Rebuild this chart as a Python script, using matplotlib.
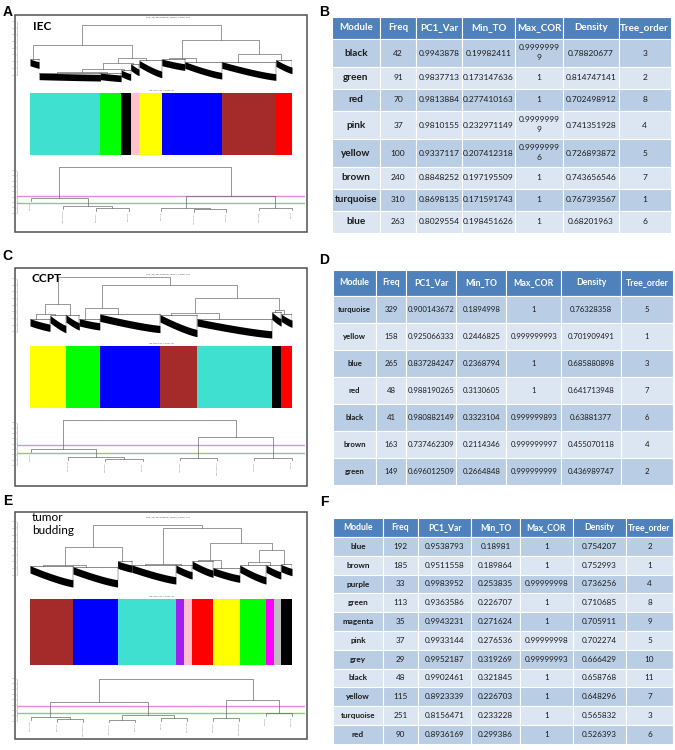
import numpy as np
import matplotlib
matplotlib.use("Agg")
import matplotlib.pyplot as plt
from matplotlib.patches import Rectangle

W, H = 675, 750

# ----------------------------
# Data
# ----------------------------
table_cols = ["Module", "Freq", "PC1_Var", "Min_TO", "Max_COR", "Density", "Tree_order"]

# B: IEC
iec_module = ["black", "green", "red", "pink", "yellow", "brown", "turquoise", "blue"]
iec_freq = [42, 91, 70, 37, 100, 240, 310, 263]
iec_pc1 = ["0.9943878", "0.9837713", "0.9813884", "0.9810155", "0.9337117", "0.8848252", "0.8698135", "0.8029554"]
iec_minto = ["0.19982411", "0.173147636", "0.277410163", "0.232971149", "0.207412318", "0.197195509", "0.171591743", "0.198451626"]
iec_maxcor = ["0.99999999", "1", "1", "0.99999999", "0.99999996", "1", "1", "1"]
iec_density = ["0.78820677", "0.814747141", "0.702498912", "0.741351928", "0.726893872", "0.743656546", "0.767393567", "0.68201963"]
iec_order = [3, 2, 8, 4, 5, 7, 1, 6]

# D: CCPT
ccpt_module = ["turquoise", "yellow", "blue", "red", "black", "brown", "green"]
ccpt_freq = [329, 158, 265, 48, 41, 163, 149]
ccpt_pc1 = ["0.900143672", "0.925066333", "0.837284247", "0.988190265", "0.980882149", "0.737462309", "0.696012509"]
ccpt_minto = ["0.1894998", "0.2446825", "0.2368794", "0.3130605", "0.3323104", "0.2114346", "0.2664848"]
ccpt_maxcor = ["1", "0.999999993", "1", "1", "0.999999893", "0.999999997", "0.999999999"]
ccpt_density = ["0.76328358", "0.701909491", "0.685880898", "0.641713948", "0.63881377", "0.455070118", "0.436989747"]
ccpt_order = [5, 1, 3, 7, 6, 4, 2]

# F: tumor budding
tb_module = ["blue", "brown", "purple", "green", "magenta", "pink", "grey", "black", "yellow", "turquoise", "red"]
tb_freq = [192, 185, 33, 113, 35, 37, 29, 48, 115, 251, 90]
tb_pc1 = ["0.9538793", "0.9511558", "0.9983952", "0.9363586", "0.9943231", "0.9933144", "0.9952187", "0.9902461", "0.8923339", "0.8156471", "0.8936169"]
tb_minto = ["0.18981", "0.189864", "0.253835", "0.226707", "0.271624", "0.276536", "0.319269", "0.321845", "0.226703", "0.233228", "0.299386"]
tb_maxcor = ["1", "1", "0.99999998", "1", "1", "0.99999998", "0.99999993", "1", "1", "1", "1"]
tb_density = ["0.754207", "0.752993", "0.736256", "0.710685", "0.705911", "0.702274", "0.666429", "0.658768", "0.648296", "0.565832", "0.526393"]
tb_order = [2, 1, 4, 8, 9, 5, 10, 11, 7, 3, 6]

# gene dendrograms: black leaf blobs (genes, top height, right-end height) and merges (left, right, height)
iec_blob_size = [40, 270, 91, 42, 37, 100, 101, 163, 238, 71]
iec_blob_top = [0.34, 0.13, 0.13, 0.175, 0.27, 0.32, 0.34, 0.30, 0.30, 0.33]
iec_blob_end = [0.30, 0.11, 0.10, 0.12, 0.19, 0.16, 0.27, 0.14, 0.12, 0.22]
iec_gene_tree = ((0, ((((1, 2, 0.14), 3, 0.19), 4, 0.275), 5, 0.36), 0.55),
                 ((6, 7, 0.36), (8, 9, 0.41), 0.625), 0.85)

ccpt_blob_size = [88, 70, 59, 90, 265, 163, 329, 41, 48]
ccpt_blob_top = [0.30, 0.35, 0.36, 0.30, 0.37, 0.36, 0.30, 0.40, 0.37]
ccpt_blob_end = [0.22, 0.20, 0.24, 0.24, 0.20, 0.14, 0.12, 0.30, 0.28]
ccpt_gene_tree = (((0, 1, 0.375), 2, 0.525),
                  ((3, 4, 0.46), ((5, 6, 0.39), (7, 8, 0.43), 0.61), 0.80), 0.925)

tb_blob_size = [185, 192, 63, 188, 70, 90, 115, 113, 64, 48]
tb_blob_top = [0.24, 0.225, 0.31, 0.25, 0.25, 0.31, 0.21, 0.25, 0.25, 0.26]
tb_blob_end = [0.03, 0.03, 0.25, 0.075, 0.15, 0.175, 0.10, 0.075, 0.15, 0.20]
tb_gene_tree = (((0, 1, 0.245), 2, 0.525),
                ((3, 4, 0.27), ((5, 6, 0.325), ((7, 8, 0.30), 9, 0.475), 0.575), 0.80), 0.85)

# eigengene dendrograms (leaves 0..n-1) and cut lines
iec_me_tree = ((0, (1, (2, 3, 0.094), 0.1375), 0.281), ((4, (5, 6, 0.075), 0.094), (7, 8, 0.106), 0.331), 0.8625)
iec_cuts = [0.325, 0.2]
ccpt_me_tree = ((0, (1, (2, 3, 0.125), 0.156), 0.30), ((4, 5, 0.144), (6, 7, 0.144), 0.531), 0.844)
ccpt_cuts = [0.375, 0.2375]
tb_me_tree = (((0, (1, 2, 0.044), 0.081), ((3, 4, 0.031), (5, 6, 0.0625), 0.119), 0.356),
              ((7, 8, 0.056), (9, 10, 0.15), 0.40), 0.80)
tb_cuts = [0.29, 0.156]

wgcna_colors = {"turquoise": "#40E0D0", "green": "#00FF00", "black": "#000000", "pink": "#FFC0CB",
                "yellow": "#FFFF00", "blue": "#0000FF", "brown": "#A52A2A", "red": "#FF0000",
                "purple": "#A020F0", "magenta": "#FF00FF", "grey": "#BEBEBE"}

# ----------------------------
# Helpers
# ----------------------------
fig = plt.figure(figsize=(W / 100, H / 100), dpi=100)
fig.patch.set_facecolor("white")


def px_axes(x0, y0, x1, y1):
    return fig.add_axes([x0 / W, 1 - y1 / H, (x1 - x0) / W, (y1 - y0) / H])


def tiny_axis(ax, lo, hi):
    ax.set_xticks([])
    for s in ["top", "right", "bottom"]:
        ax.spines[s].set_visible(False)
    ax.spines["left"].set_color("#aaaaaa")
    ax.spines["left"].set_linewidth(0.4)
    ax.spines["left"].set_bounds(lo, hi)
    ticks = np.round(np.linspace(lo, hi, 9), 2)
    ax.set_yticks(ticks)
    ax.set_yticklabels([f"{t:.1f}" for t in ticks], fontsize=1.5, color="#999999")
    ax.tick_params(axis="y", length=1, width=0.3, pad=0.5, color="#aaaaaa")
    ax.patch.set_alpha(0)


def draw_gene_tree(ax, tree, sizes, tops, ends, thick):
    edges = np.concatenate([[0], np.cumsum(sizes)])

    def walk(node):
        if isinstance(node, int):
            return edges[node] + 0.3 * sizes[node], tops[node]
        left, right, h = node
        xl, hl = walk(left)
        xr, hr = walk(right)
        ax.plot([xl, xl, xr, xr], [hl, h, h, hr], color="#707070", lw=0.5)
        return (xl + xr) / 2, h

    walk(tree)
    t = np.linspace(0, 1, 80)
    for i in range(len(sizes)):
        xs = edges[i] + t * sizes[i]
        upper = ends[i] + (tops[i] - ends[i]) * (1 - t) ** 1.25
        ax.fill_between(xs, upper - thick, upper, color="black", lw=0)
        ax.plot([edges[i], edges[i + 1]], [tops[i], tops[i]], color="#333333", lw=0.4)
        ax.plot([edges[i + 1], edges[i + 1]], [tops[i], upper[-1]], color="#333333", lw=0.3)
    return edges[-1]


def draw_me_tree(ax, tree, labels, hang=0.05):
    def walk(node, parent_h):
        if isinstance(node, int):
            bottom = parent_h - hang
            ax.text(node, bottom - 0.02, labels[node], rotation=90, ha="center", va="top",
                    fontsize=1.6, color="#888888")
            return node, bottom
        left, right, h = node
        xl, hl = walk(left, h)
        xr, hr = walk(right, h)
        ax.plot([xl, xl, xr, xr], [hl, h, h, hr], color="#6a6a6a", lw=0.5, zorder=3)
        return (xl + xr) / 2, h

    walk(tree, None)


def draw_table(x0, y0, widths, columns, header_h, row_h, tall_h, fs, mod_fs, head_fs, wrap):
    rows = list(zip(*columns))
    # only Max_COR wraps in a narrow column
    texts = [[s if (j != 4 or len(s) <= wrap) else s[:wrap] + "\n" + s[wrap:]
              for j, s in enumerate(map(str, r))] for r in rows]
    heights = [header_h] + [tall_h if any("\n" in s for s in r) else row_h for r in texts]
    xe = np.concatenate([[0], np.cumsum(widths)])
    ye = np.concatenate([[0], np.cumsum(heights)])
    ax = px_axes(x0, y0, x0 + xe[-1], y0 + ye[-1])
    ax.set_xlim(0, xe[-1])
    ax.set_ylim(ye[-1], 0)
    ax.axis("off")
    for j, name in enumerate(table_cols):
        ax.add_patch(Rectangle((xe[j], 0), widths[j], header_h, fc="#4F81BD", ec="white", lw=0.8))
        ax.text((xe[j] + xe[j + 1]) / 2, header_h / 2, name, ha="center", va="center",
                fontsize=head_fs, color="white", fontweight="bold", family="Lato")
    for i, r in enumerate(texts):
        fc = "#B9CDE5" if i % 2 == 0 else "#DCE6F2"
        for j, s in enumerate(r):
            ax.add_patch(Rectangle((xe[j], ye[i + 1]), widths[j], heights[i + 1], fc=fc, ec="white", lw=0.8))
            ax.text((xe[j] + xe[j + 1]) / 2, (ye[i + 1] + ye[i + 2]) / 2, s, ha="center", va="center",
                    fontsize=mod_fs if j == 0 else fs, fontweight="bold" if j == 0 else "normal",
                    color="#1a1a1a", family="Lato", linespacing=1.5)


def draw_panel(box, letter, tag, tag_xy, gene_box, gene_ylim, tree, sizes, tops, ends, thick,
               bar_box, modules, freqs, orders, me_box, me_tree, me_labels, cuts):
    bx0, by0, bx1, by1 = box
    fig.add_artist(Rectangle((bx0 / W, 1 - by1 / H), (bx1 - bx0) / W, (by1 - by0) / H,
                             transform=fig.transFigure, fill=False, ec="#505050", lw=1.1))
    fig.text(7.5 / W, 1 - letter[1] / H, letter[0], fontsize=10, fontweight="bold",
             family="Liberation Sans", ha="center", va="center")
    fig.text(tag_xy[0] / W, 1 - tag_xy[1] / H, tag, fontsize=8.5, fontweight=tag_xy[2],
             family="Lato", ha="left", va="center", linespacing=1.25)

    # gene dendrogram
    ax = px_axes(*gene_box)
    n = sum(sizes)
    draw_gene_tree(ax, tree, sizes, tops, ends, thick)
    ax.set_xlim(-n * 13 / 262, n)
    ax.set_ylim(*gene_ylim)
    tiny_axis(ax, 0.1, 0.9)
    ax.text(0.55, 0.985, "h_TE_TB_dendrogram_genes_cluster.pdf", transform=ax.transAxes,
            fontsize=1.6, ha="center", va="top", color="#555555")

    # module colour bar, in tree order, widths = module size
    ax = px_axes(*bar_box)
    idx = np.argsort(orders)
    left = 0
    for k in idx:
        ax.bar(left, 1, width=freqs[k], align="edge", color=wgcna_colors[modules[k]], lw=0)
        left += freqs[k]
    ax.set_xlim(0, left)
    ax.set_ylim(0, 1)
    ax.axis("off")
    fig.text(((bar_box[0] + bar_box[2]) / 2 + 1) / W, 1 - (bar_box[1] - 2) / H, "ME modules, height cut",
             fontsize=1.5, ha="center", va="bottom", color="#555555")

    # eigengene dendrogram
    ax = px_axes(*me_box)
    nl = len(me_labels)
    s = 261 / (nl - 1)
    draw_me_tree(ax, me_tree, me_labels)
    for c, col in zip(cuts, ["#DA70D6", "#55CC55"]):
        ax.axhline(c, color=col, lw=1.0, alpha=0.8, zorder=2)
    ax.set_xlim(-(30.7 - me_box[0]) / s, (nl - 1) + (me_box[2] - 291.7) / s)
    ax.set_ylim(-0.3125, 1)
    tiny_axis(ax, 0.0, 0.8)


def me_names(modules, orders, extra):
    return ["ME" + m for m in extra + [modules[k] for k in np.argsort(orders)]]


# ----------------------------
# Panels
# ----------------------------
draw_panel((15, 15, 307, 232), ("A", 12.5), "IEC", (33, 26, "bold"),
           (17, 15, 292, 85), (-0.05, 1.0), iec_gene_tree, iec_blob_size, iec_blob_top, iec_blob_end, 0.1,
           (30, 93, 292, 155), iec_module, iec_freq, iec_order,
           (17, 160, 305, 230), iec_me_tree, me_names(iec_module, iec_order, ["grey"]), iec_cuts)

draw_panel((15, 268, 307, 486), ("C", 256), "CCPT", (32, 279, "bold"),
           (17, 272, 292, 342), (-0.05, 1.0), ccpt_gene_tree, ccpt_blob_size, ccpt_blob_top, ccpt_blob_end, 0.11,
           (30, 346, 292, 408), ccpt_module, ccpt_freq, ccpt_order,
           (17, 412, 305, 482), ccpt_me_tree, me_names(ccpt_module, ccpt_order, ["grey"]), ccpt_cuts)

draw_panel((15, 512, 307, 739), ("E", 501), "tumor\nbudding", (32, 524, "normal"),
           (17, 515, 292, 590), (-0.125, 1.0), tb_gene_tree, tb_blob_size, tb_blob_top, tb_blob_end, 0.11,
           (30, 599, 292, 665), tb_module, tb_freq, tb_order,
           (17, 668, 305, 738), tb_me_tree, me_names(tb_module, tb_order, []), tb_cuts)

# right-hand letters
for letter, ly in [("B", 12.5), ("D", 260), ("F", 502)]:
    fig.text(324 / W, 1 - ly / H, letter, fontsize=10, fontweight="bold",
             family="Liberation Sans", ha="center", va="center")

# ----------------------------
# Tables
# ----------------------------
draw_table(332, 17, [47.7, 36.7, 45.7, 52.7, 48.3, 55.7, 51.7],
           [iec_module, iec_freq, iec_pc1, iec_minto, iec_maxcor, iec_density, iec_order],
           22, 22, 28, 6.0, 7.2, 7.0, 9)

draw_table(333, 270, [43.3, 29.3, 50.7, 50, 55, 60, 51.7],
           [ccpt_module, ccpt_freq, ccpt_pc1, ccpt_minto, ccpt_maxcor, ccpt_density, ccpt_order],
           26, 27, 27, 5.6, 5.6, 6.3, 99)

draw_table(333, 518, [50, 35, 53.3, 48.3, 53.3, 53.3, 46.7],
           [tb_module, tb_freq, tb_pc1, tb_minto, tb_maxcor, tb_density, tb_order],
           19, 18.8, 18.8, 5.9, 5.9, 6.2, 99)

plt.savefig("out.png", dpi=100)
